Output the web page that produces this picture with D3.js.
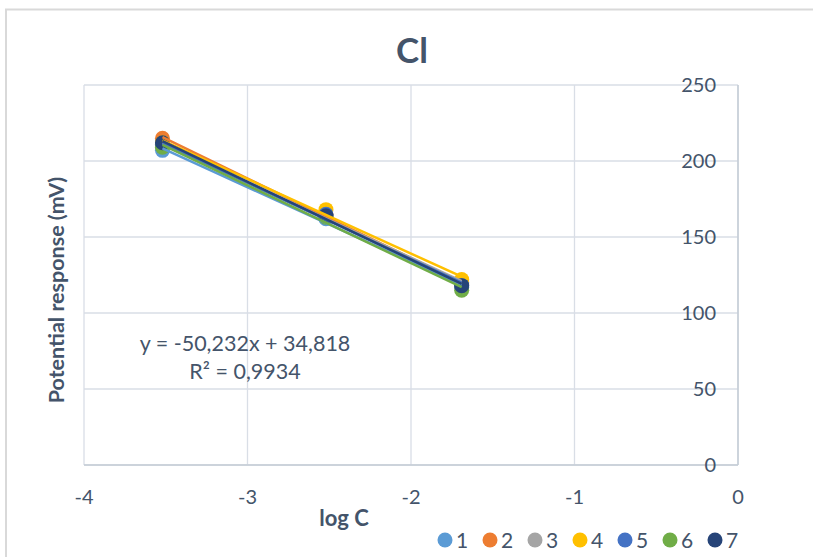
<!DOCTYPE html>
<html><head><meta charset="utf-8">
<script src="https://cdn.jsdelivr.net/npm/d3@7"></script>
<style>body{margin:0;background:#fff}text{font-family:Lato,"Open Sans",sans-serif}</style>
</head><body><svg id="c" width="813" height="557"></svg>
<script>
const logC = [-3.52, -2.52, -1.69];
const seriesNames = ["1","2","3","4","5","6","7"];
const seriesColors = ["#5B9BD5","#ED7D31","#A5A5A5","#FFC000","#4472C4","#70AD47","#264478"];
const s1 = [207, 162, 117];
const s2 = [215, 165, 119];
const s3 = [211, 164, 120];
const s4 = [212, 168, 122];
const s5 = [210, 165, 118];
const s6 = [209, 163, 115];
const s7 = [212, 164, 118];
const seriesValues = [s1,s2,s3,s4,s5,s6,s7];
const xTicks = [-4,-3,-2,-1,0];
const yTicks = [0,50,100,150,200,250];
const equationLines = ["y = -50,232x + 34,818","R² = 0,9934"];
const titleText = "Cl", xTitle = "log C", yTitle = "Potential response (mV)";

const svg = d3.select("#c");
const txt = "#44546A";
svg.append("rect").attr("x",6).attr("y",9.5).attr("width",820).attr("height",560)
  .attr("fill","none").attr("stroke","#D9D9D9").attr("stroke-width",2);

const x = d3.scaleLinear().domain([-4,0]).range([84,738]);
const y = d3.scaleLinear().domain([0,250]).range([465,85]);

svg.append("g").selectAll("line").data(yTicks).join("line")
  .attr("x1",84).attr("x2",738).attr("y1",d=>y(d)).attr("y2",d=>y(d))
  .attr("stroke","#D9DEE6").attr("stroke-width",1.3);
svg.append("g").selectAll("line").data(xTicks).join("line")
  .attr("y1",85).attr("y2",465).attr("x1",d=>x(d)).attr("x2",d=>x(d))
  .attr("stroke","#D9DEE6").attr("stroke-width",1.3);
svg.append("line").attr("x1",84).attr("x2",738).attr("y1",465).attr("y2",465).attr("stroke","#C5CCD6").attr("stroke-width",1.5);
svg.append("line").attr("x1",738).attr("x2",738).attr("y1",85).attr("y2",465).attr("stroke","#C5CCD6").attr("stroke-width",1.5);

svg.append("g").selectAll("text").data(yTicks).join("text")
  .attr("x",716).attr("y",d=>y(d)+7).attr("text-anchor","end")
  .attr("font-size",20).attr("fill",txt).text(d=>d);
svg.append("g").selectAll("text").data(xTicks).join("text")
  .attr("x",d=>x(d)).attr("y",504).attr("text-anchor","middle")
  .attr("font-size",20).attr("fill",txt).text(d=>d);

seriesValues.forEach((vals,i)=>{
  svg.append("g").selectAll("circle").data(vals).join("circle")
    .attr("cx",(d,j)=>x(logC[j])).attr("cy",d=>y(d)).attr("r",7.5)
    .attr("fill",seriesColors[i]);
});
seriesValues.forEach((vals,i)=>{
  const mx = d3.mean(logC), my = d3.mean(vals);
  const sxy = d3.sum(logC,(v,j)=>(v-mx)*(vals[j]-my));
  const sxx = d3.sum(logC,v=>(v-mx)*(v-mx));
  const b = sxy/sxx, a = my-b*mx;
  const ends = [d3.min(logC), d3.max(logC)];
  svg.append("line").attr("x1",x(ends[0])).attr("y1",y(a+b*ends[0]))
    .attr("x2",x(ends[1])).attr("y2",y(a+b*ends[1]))
    .attr("stroke",seriesColors[i]).attr("stroke-width",2.5);
});

svg.append("g").selectAll("text").data(equationLines).join("text")
  .attr("x",245).attr("y",(d,i)=>351+i*28).attr("text-anchor","middle")
  .attr("font-size",21.5).attr("fill",txt).text(d=>d);

svg.append("text").attr("x",412).attr("y",63).attr("text-anchor","middle")
  .attr("font-size",35).attr("font-weight","bold").attr("fill",txt).text(titleText);
svg.append("text").attr("x",344).attr("y",526).attr("text-anchor","middle")
  .attr("font-size",22).attr("font-weight","bold").attr("fill",txt).text(xTitle);
svg.append("text").attr("transform","translate(64,290) rotate(-90)").attr("text-anchor","middle")
  .attr("font-size",21.5).attr("font-weight","bold").attr("fill",txt).text(yTitle);

const lg = svg.append("g").selectAll("g").data(seriesNames).join("g")
  .attr("transform",(d,i)=>`translate(${445+i*45},540)`);
lg.append("circle").attr("r",7.5).attr("fill",(d,i)=>seriesColors[i]);
lg.append("text").attr("x",11).attr("y",7.5).attr("font-size",21).attr("fill",txt).text(d=>d);
</script></body></html>
